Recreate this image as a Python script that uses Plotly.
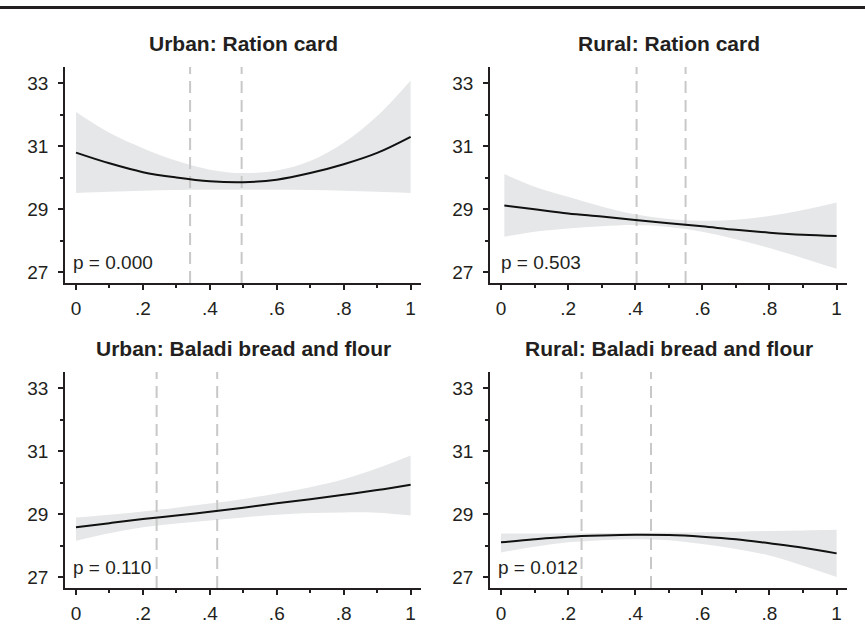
import plotly.graph_objects as go

# ---------------- data ----------------
TITLES = ["Urban: Ration card", "Rural: Ration card",
          "Urban: Baladi bread and flour", "Rural: Baladi bread and flour"]
P_LABELS = ["p = 0.000", "p = 0.503", "p = 0.110", "p = 0.012"]

X_GRID_A = [0.0, 0.1, 0.2, 0.3, 0.4, 0.5, 0.6, 0.7, 0.8, 0.9, 1.0]
X_GRID_B = [0.01, 0.1, 0.2, 0.3, 0.4, 0.5, 0.6, 0.7, 0.8, 0.9, 1.0]

urban_ration_fit = [30.79, 30.45, 30.17, 30.00, 29.88, 29.85, 29.93, 30.14, 30.42, 30.78, 31.29]
urban_ration_hi = [32.08, 31.42, 30.93, 30.53, 30.25, 30.14, 30.22, 30.52, 31.10, 31.95, 33.08]
urban_ration_lo = [29.51, 29.55, 29.58, 29.60, 29.61, 29.61, 29.61, 29.60, 29.58, 29.55, 29.51]

rural_ration_fit = [29.11, 28.99, 28.86, 28.76, 28.65, 28.55, 28.45, 28.34, 28.25, 28.18, 28.14]
rural_ration_hi = [30.11, 29.71, 29.39, 29.08, 28.83, 28.68, 28.63, 28.66, 28.78, 28.97, 29.21]
rural_ration_lo = [28.12, 28.28, 28.38, 28.45, 28.49, 28.43, 28.28, 28.04, 27.76, 27.44, 27.10]

urban_bread_fit = [28.58, 28.71, 28.84, 28.95, 29.07, 29.20, 29.34, 29.47, 29.61, 29.76, 29.93]
urban_bread_hi = [28.89, 28.98, 29.08, 29.20, 29.33, 29.48, 29.65, 29.85, 30.10, 30.45, 30.86]
urban_bread_lo = [28.15, 28.39, 28.58, 28.70, 28.79, 28.89, 28.98, 29.03, 29.05, 29.04, 28.95]

rural_bread_fit = [28.10, 28.20, 28.28, 28.32, 28.34, 28.33, 28.28, 28.20, 28.07, 27.93, 27.75]
rural_bread_hi = [28.38, 28.38, 28.39, 28.40, 28.40, 28.41, 28.42, 28.44, 28.46, 28.48, 28.50]
rural_bread_lo = [27.78, 27.96, 28.10, 28.17, 28.20, 28.17, 28.05, 27.89, 27.68, 27.36, 27.00]

VLINES = [[0.341, 0.495], [0.404, 0.550], [0.241, 0.422], [0.240, 0.447]]

X_TICKS = [0, 0.2, 0.4, 0.6, 0.8, 1]
X_TICK_TEXT = ["0", ".2", ".4", ".6", ".8", "1"]
X_MINOR = [0.1, 0.3, 0.5, 0.7, 0.9]
Y_TICKS = [27, 29, 31, 33]
Y_MINOR = [28, 30, 32]

PANELS = [
    (X_GRID_A, urban_ration_fit, urban_ration_hi, urban_ration_lo),
    (X_GRID_B, rural_ration_fit, rural_ration_hi, rural_ration_lo),
    (X_GRID_A, urban_bread_fit, urban_bread_hi, urban_bread_lo),
    (X_GRID_A, rural_bread_fit, rural_bread_hi, rural_bread_lo),
]

# ---------------- layout geometry (pixels) ----------------
W, H = 865, 635
# (x_left, x_right, y_top, y_bottom) of axis lines
BOXES = [(65, 421, 67, 283), (490, 847, 67, 283),
         (65, 421, 372, 588), (490, 847, 372, 588)]
TITLE_Y = [43, 43, 348, 348]
Y_RANGE = [26.651, 33.508]
X_RANGE = [-0.0328, 1.031]

INK = "#231f20"
BAND = "#e6e7e8"
DASH = "#c8c8c8"
FONT = "Liberation Sans, Arial, Helvetica, sans-serif"

fig = go.Figure()
layout = {}
annotations = []
shapes = []

for i, (xs, fit, hi, lo) in enumerate(PANELS):
    n = i + 1
    xa = "x" if n == 1 else f"x{n}"
    ya = "y" if n == 1 else f"y{n}"
    x0, x1, yt, yb = BOXES[i]

    fig.add_trace(go.Scatter(x=xs, y=hi, xaxis=xa, yaxis=ya, mode="lines",
                             line=dict(width=0, shape="spline", color=BAND),
                             showlegend=False, hoverinfo="skip"))
    fig.add_trace(go.Scatter(x=xs, y=lo, xaxis=xa, yaxis=ya, mode="lines",
                             line=dict(width=0, shape="spline", color=BAND),
                             fill="tonexty", fillcolor=BAND,
                             showlegend=False, hoverinfo="skip"))
    for v in VLINES[i]:
        fig.add_trace(go.Scatter(x=[v, v], y=Y_RANGE, xaxis=xa, yaxis=ya,
                                 mode="lines",
                                 line=dict(width=2, color=DASH, dash="12px,7px"),
                                 showlegend=False, hoverinfo="skip"))
    fig.add_trace(go.Scatter(x=xs, y=fit, xaxis=xa, yaxis=ya, mode="lines",
                             line=dict(width=2, color="#111111", shape="spline"),
                             showlegend=False, hoverinfo="skip"))

    key_x = "xaxis" if n == 1 else f"xaxis{n}"
    key_y = "yaxis" if n == 1 else f"yaxis{n}"
    layout[key_x] = dict(
        domain=[x0 / W, x1 / W], range=X_RANGE, anchor=ya, automargin=False,
        showgrid=False, zeroline=False, showline=True, linecolor=INK, linewidth=1.6,
        ticks="outside", ticklen=5, tickwidth=1.5, tickcolor=INK,
        tickmode="array", tickvals=X_TICKS, ticktext=X_TICK_TEXT,
        minor=dict(tickmode="array", tickvals=X_MINOR, ticks="outside",
                   ticklen=3, tickwidth=1.5, tickcolor=INK, showgrid=False),
        tickfont=dict(family=FONT, size=19, color=INK), ticklabelstandoff=2,
        fixedrange=True,
    )
    layout[key_y] = dict(
        domain=[1 - yb / H, 1 - yt / H], range=Y_RANGE, anchor=xa, automargin=False,
        showgrid=False, zeroline=False, showline=True, linecolor=INK, linewidth=1.6,
        ticks="outside", ticklen=5, tickwidth=1.5, tickcolor=INK,
        tickmode="array", tickvals=Y_TICKS,
        minor=dict(tickmode="array", tickvals=Y_MINOR, ticks="outside",
                   ticklen=3, tickwidth=1.5, tickcolor=INK, showgrid=False),
        tickfont=dict(family=FONT, size=19, color=INK), ticklabelstandoff=6,
        fixedrange=True,
    )

    annotations.append(dict(
        text=f"<b>{TITLES[i]}</b>", xref="paper", yref="paper",
        x=(x0 + x1) / 2 / W, y=1 - TITLE_Y[i] / H, xanchor="center", yanchor="middle",
        showarrow=False, font=dict(family=FONT, size=21, color=INK)))
    annotations.append(dict(
        text=P_LABELS[i], xref=xa, yref=ya, x=xs[0] - 0.015, y=27.3,
        xanchor="left", yanchor="middle", showarrow=False,
        font=dict(family=FONT, size=19, color=INK)))

shapes.append(dict(type="line", xref="paper", yref="paper", x0=0, x1=1,
                   y0=1 - 7.5 / H, y1=1 - 7.5 / H, line=dict(color=INK, width=3)))

fig.update_layout(
    width=W, height=H, margin=dict(l=0, r=0, t=0, b=0, autoexpand=False),
    paper_bgcolor="white", plot_bgcolor="white",
    annotations=annotations, shapes=shapes, showlegend=False,
    font=dict(family=FONT, color=INK),
    **layout,
)

fig.write_html("out.html", config={"displayModeBar": False},
               post_script="document.body.style.margin='0';document.body.style.overflow='hidden';")
